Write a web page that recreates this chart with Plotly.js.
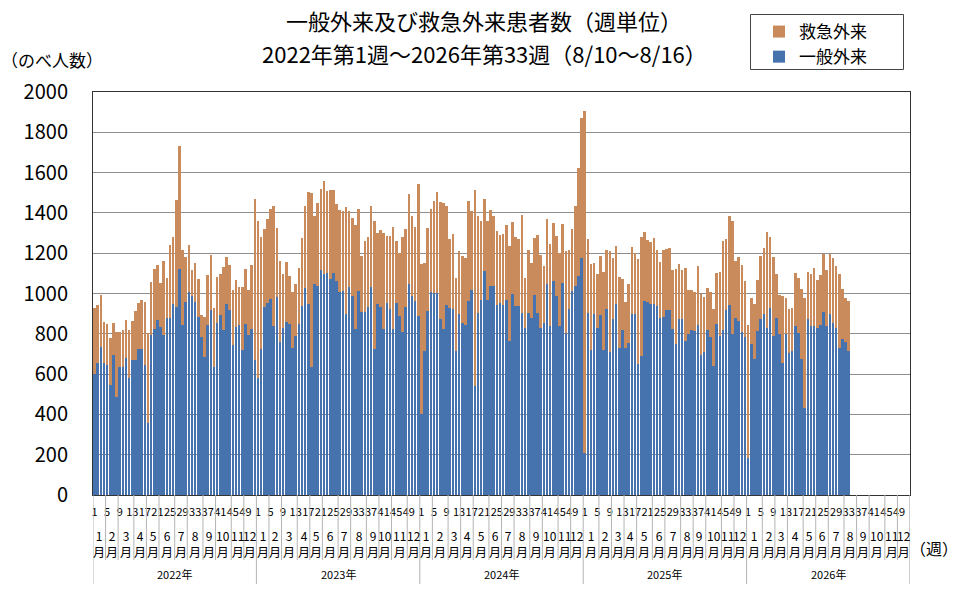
<!DOCTYPE html>
<html>
<head>
<meta charset="utf-8">
<script src="https://cdn.plot.ly/plotly-3.0.1.min.js"></script>
<style>html,body{margin:0;padding:0;background:#fff}#chart{width:958px;height:591px}</style>
</head>
<body>
<div id="chart"></div>
<script>
// Axis structure: 5 years, 52 week slots each.
const years = ['2022年', '2023年', '2024年', '2025年', '2026年'];
const weeksPerYear = 52;
const weekTicks = [1, 5, 9, 13, 17, 21, 25, 29, 33, 37, 41, 45, 49];
const monthLabels = ['1', '2', '3', '4', '5', '6', '7', '8', '9', '10', '11', '12'];
// Weeks falling in each month (1月..12月).
const monthWeeks2022 = [4, 4, 5, 4, 4, 5, 4, 5, 4, 5, 4, 4];
const monthWeeks2023 = [4, 4, 5, 4, 4, 5, 4, 5, 4, 4, 5, 4];
const monthWeeks2024 = [4, 5, 4, 4, 5, 4, 4, 5, 4, 5, 4, 4];
const monthWeeks2025 = [5, 4, 4, 4, 5, 4, 5, 4, 4, 5, 4, 4];
const monthWeeks2026 = [5, 4, 4, 5, 4, 4, 5, 4, 4, 5, 4, 4];

// 一般外来 (general outpatients), weekly.
const general2022 = [603, 656, 735, 653, 645, 545, 694, 488, 636, 636, 678, 579, 669, 669, 727, 727, 645, 355, 793, 826, 868, 835, 793, 876, 876, 950, 934, 1121,
  843, 960, 1008, 990, 959, 884, 785, 686, 843, 917, 636, 856, 893, 818, 950, 917, 744, 835, 843, 719, 851, 793, 826, 669];
const general2023 = [583, 724, 931, 955, 972, 839, 985, 761, 827, 860, 848, 732, 790, 848, 939, 1025, 947, 633, 1046, 1038, 1116, 1096, 1104, 1071, 1104, 1063,
  1005, 1013, 897, 1030, 988, 823, 1013, 906, 906, 931, 1030, 724, 950, 931, 823, 952, 922, 823, 955, 889, 807, 931, 1046, 988, 964, 889];
const general2024 = [400, 714, 912, 1007, 1003, 1003, 871, 825, 945, 929, 921, 714, 896, 854, 846, 962, 1016, 540, 904, 970, 1111, 970, 1036, 1036, 945, 954,
  945, 970, 763, 1000, 937, 937, 904, 830, 904, 879, 995, 904, 830, 854, 1045, 838, 1061, 987, 838, 1053, 805, 924, 1011, 1036, 1086, 1177];
const general2025 = [210, 904, 722, 896, 830, 891, 722, 924, 709, 871, 950, 730, 821, 730, 755, 896, 896, 648, 689, 962, 957, 950, 950, 937, 879, 882,
  916, 917, 825, 750, 871, 871, 764, 797, 821, 813, 846, 697, 709, 821, 783, 640, 851, 788, 821, 917, 945, 797, 879, 863, 810, 782];
const general2026 = [185, 747, 673, 813, 871, 896, 829, 929, 788, 879, 797, 656, 797, 706, 714, 838, 805, 673, 433, 871, 838, 838, 829, 846, 907, 838,
  896, 854, 829, 730, 772, 759, 714];

// 救急外来 (emergency outpatients), weekly.
const emergency2022 = [323, 286, 257, 207, 206, 232, 162, 322, 174, 182, 190, 239, 194, 243, 228, 243, 312, 447, 265, 298, 272, 218, 369, 203, 364, 331, 529, 610,
  372, 220, 235, 126, 190, 190, 108, 198, 248, 276, 290, 227, 206, 314, 232, 224, 273, 231, 190, 314, 270, 224, 314, 802];
const emergency2023 = [777, 554, 388, 414, 446, 596, 342, 401, 269, 294, 240, 273, 256, 281, 334, 410, 557, 865, 339, 413, 405, 463, 405, 443, 410, 383,
  408, 397, 533, 380, 389, 516, 405, 281, 355, 350, 405, 636, 352, 384, 476, 331, 364, 509, 306, 314, 471, 391, 447, 397, 368, 653];
const emergency2024 = [744, 438, 414, 410, 455, 499, 582, 625, 491, 342, 372, 364, 314, 331, 331, 496, 392, 976, 479, 389, 358, 389, 376, 347, 364, 334,
  348, 372, 472, 354, 344, 334, 488, 248, 314, 273, 281, 384, 363, 281, 325, 410, 289, 297, 364, 292, 405, 294, 310, 397, 537, 694];
const emergency2025 = [1694, 367, 422, 253, 269, 297, 384, 294, 501, 306, 288, 351, 253, 229, 290, 334, 306, 524, 592, 342, 307, 305, 326, 278, 276, 333,
  305, 309, 294, 372, 273, 248, 363, 219, 195, 194, 289, 303, 274, 207, 224, 281, 251, 318, 438, 354, 438, 562, 281, 317, 330, 279];
const emergency2026 = [661, 232, 277, 256, 317, 330, 475, 352, 394, 220, 198, 331, 182, 215, 215, 264, 273, 350, 546, 235, 261, 289, 240, 248, 291, 278,
  302, 323, 306, 369, 251, 220, 248];

const generalByYear = [general2022, general2023, general2024, general2025, general2026];
const emergencyByYear = [emergency2022, emergency2023, emergency2024, emergency2025, emergency2026];
const monthWeeksByYear = [monthWeeks2022, monthWeeks2023, monthWeeks2024, monthWeeks2025, monthWeeks2026];

// Week slot index on the x axis.
let xs = [], general = [], emergency = [];
generalByYear.forEach(function(arr, k){
  arr.forEach(function(v, w){
    xs.push(k * weeksPerYear + w);
    general.push(v);
    emergency.push(emergencyByYear[k][w]);
  });
});

let tickvals = [], ticktext = [];
years.forEach(function(y, k){
  weekTicks.forEach(function(w){
    tickvals.push(k * weeksPerYear + w - 1);
    ticktext.push(String(w));
  });
});

// Plot area in pixels, used to place the category rows under the axis.
const plotTop = 92, plotBottom = 495, plotLeft = 93, plotRight = 910;
const plotH = plotBottom - plotTop, plotW = plotRight - plotLeft;
function py(pixel){ return (plotBottom - pixel) / plotH; }
function px(pixel){ return (pixel - plotLeft) / plotW; }

let shapes = [], annotations = [];
const gridGrey = '#b4b4b4';
years.forEach(function(y, k){
  let start = k * weeksPerYear;
  shapes.push({type: 'line', xref: 'x', yref: 'paper', x0: start - 0.5, x1: start - 0.5, y0: 0, y1: py(584),
    line: {color: gridGrey, width: 1}});
  let cum = 0;
  monthWeeksByYear[k].forEach(function(n, m){
    if (m > 0) {
      shapes.push({type: 'line', xref: 'x', yref: 'paper', x0: start + cum - 0.5, x1: start + cum - 0.5, y0: 0, y1: py(560),
        line: {color: gridGrey, width: 1}});
    }
    annotations.push({xref: 'x', yref: 'paper', x: start + cum + n / 2 - 0.5, y: py(543), text: monthLabels[m] + '<br>月',
      showarrow: false, font: {size: 12, color: '#000'}, xanchor: 'center', yanchor: 'middle'});
    cum += n;
  });
  annotations.push({xref: 'x', yref: 'paper', x: start + weeksPerYear / 2 - 0.5, y: py(574), text: y,
    showarrow: false, font: {size: 11, color: '#000'}, xanchor: 'center', yanchor: 'middle'});
});
shapes.push({type: 'line', xref: 'x', yref: 'paper', x0: years.length * weeksPerYear - 0.55, x1: years.length * weeksPerYear - 0.55,
  y0: 0, y1: py(584), line: {color: gridGrey, width: 1}});
// Legend frame.
shapes.push({type: 'rect', xref: 'paper', yref: 'paper', x0: px(750.5), x1: px(903.5), y0: py(14.5), y1: py(69.5),
  line: {color: '#444', width: 1}, fillcolor: 'rgba(0,0,0,0)', layer: 'above'});

annotations.push({xref: 'paper', yref: 'paper', x: px(484), y: py(53),
  text: '2022年第1週～2026年第33週（8/10～8/16）', showarrow: false, font: {size: 22, color: '#000'},
  xanchor: 'center', yanchor: 'middle'});
annotations.push({xref: 'paper', yref: 'paper', x: px(52), y: py(60), text: '（のべ人数）', showarrow: false,
  font: {size: 17, color: '#000'}, xanchor: 'center', yanchor: 'middle'});
annotations.push({xref: 'paper', yref: 'paper', x: px(934), y: py(548), text: '（週）', showarrow: false,
  font: {size: 16, color: '#000'}, xanchor: 'center', yanchor: 'middle'});

let data = [{
  type: 'bar',
  name: '一般外来',
  x: xs,
  y: general,
  marker: {color: '#4672ad', line: {width: 0}},
  hoverinfo: 'y'
}, {
  type: 'bar',
  name: '救急外来',
  x: xs,
  y: emergency,
  marker: {color: '#c98b5b', line: {width: 0}},
  hoverinfo: 'y'
}];

let layout = {
  width: 958,
  height: 591,
  margin: {l: plotLeft, r: 958 - plotRight, t: plotTop, b: 591 - plotBottom},
  paper_bgcolor: '#fff',
  plot_bgcolor: '#fff',
  font: {family: '"Noto Sans CJK JP", "Noto Sans", sans-serif', color: '#000'},
  barmode: 'stack',
  bargap: 0.18,
  title: {
    text: '一般外来及び救急外来患者数（週単位）',
    font: {size: 22, color: '#000'},
    x: 484 / 958, xref: 'container', xanchor: 'center',
    y: 1 - 22 / 591, yref: 'container', yanchor: 'middle'
  },
  showlegend: true,
  legend: {
    x: px(759), y: py(14), xanchor: 'left', yanchor: 'top',
    traceorder: 'reversed',
    borderwidth: 0,
    bgcolor: 'rgba(0,0,0,0)',
    font: {size: 17, color: '#000'},
    tracegroupgap: 0
  },
  xaxis: {
    range: [-0.5, years.length * weeksPerYear - 0.5],
    tickmode: 'array',
    tickvals: tickvals,
    ticktext: ticktext,
    tickangle: 0,
    tickfont: {size: 11, color: '#000'},
    ticks: '',
    ticklabelstandoff: 7,
    showgrid: false,
    zeroline: false,
    showline: true,
    mirror: true,
    linecolor: '#333',
    linewidth: 1
  },
  yaxis: {
    range: [0, 2000],
    dtick: 200,
    tickfont: {size: 20, color: '#000'},
    ticks: '',
    ticklabelstandoff: 20,
    gridcolor: '#8f8f8f',
    gridwidth: 1,
    zeroline: false,
    showline: true,
    mirror: true,
    linecolor: '#333',
    linewidth: 1
  },
  shapes: shapes,
  annotations: annotations
};

Plotly.newPlot('chart', data, layout, {displayModeBar: false, responsive: false});
</script>
</body>
</html>
